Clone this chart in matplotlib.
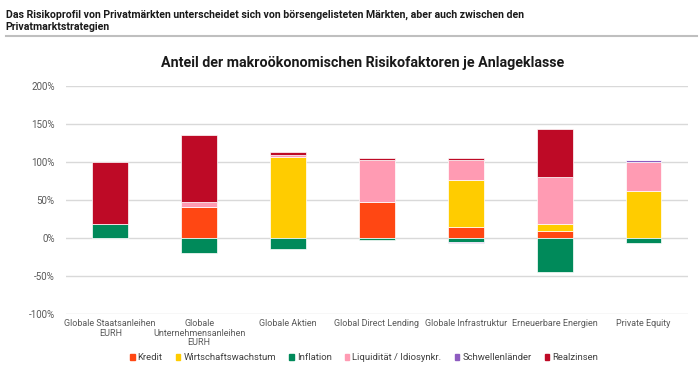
import numpy as np
import matplotlib.pyplot as plt
from matplotlib.lines import Line2D

categories = ["Globale Staatsanleihen\nEURH", "Globale\nUnternehmensanleihen\nEURH", "Globale Aktien",
              "Global Direct Lending", "Globale Infrastruktur", "Erneuerbare Energien", "Private Equity"]
series_names = ["Kredit", "Wirtschaftswachstum", "Inflation", "Liquidität / Idiosynkr.",
                "Schwellenländer", "Realzinsen"]
colors = ["#FF4713", "#FFCC00", "#008A5A", "#FF9BB3", "#8E5CC0", "#BE0A26"]

kredit = [0, 41, 0, 48, 15, 9, 0]
wachstum = [0, 0, 107, 0, 61, 10, 62]
inflation = [18, -19, -14, -3, -5, -45, -7]
liquiditaet = [0, 6, 2, 55, 27, 61, 38]
schwellen = [0, 0, 0, 0, -1, 0, 3]
realzinsen = [82, 89, 4, 2, 3, 63, 0]

values = [kredit, wachstum, inflation, liquiditaet, schwellen, realzinsen]

plt.rcParams['font.family'] = ['Roboto', 'DejaVu Sans']

fig = plt.figure(figsize=(7, 3.74), dpi=100)
ax = fig.add_axes([0.094, 0.160, 0.889, 0.610])

x = np.arange(len(categories))
pos_base = np.zeros(len(categories))
neg_base = np.zeros(len(categories))
for name, vals, col in zip(series_names, values, colors):
    v = np.array(vals, dtype=float)
    base = np.where(v >= 0, pos_base, neg_base)
    ax.bar(x, v, 0.4, bottom=base, color=col, edgecolor="white", linewidth=0.5, zorder=3)
    pos_base += np.where(v >= 0, v, 0)
    neg_base += np.where(v < 0, v, 0)

ax.set_ylim(-100, 200)
ax.set_xlim(-0.5, len(categories) - 0.5)
ax.set_yticks(np.arange(-100, 201, 50))
ax.set_yticklabels([f"{t}%" for t in range(-100, 201, 50)])
ax.yaxis.grid(True, color="#D9D9D9", linewidth=1, zorder=0)
for s in ax.spines.values():
    s.set_visible(False)
ax.tick_params(axis="both", length=0, labelsize=7, colors="#595959")
ax.tick_params(axis="y", pad=8)
ax.set_xticks(x)
ax.set_xticklabels(categories, fontsize=6.5, linespacing=1.1, va="top")

ax.set_title("Anteil der makroökonomischen Risikofaktoren je Anlageklasse",
             fontsize=10.3, fontweight="bold", pad=14, color="#1a1a1a", x=0.477)

fig.text(0.008, 0.975, "Das Risikoprofil von Privatmärkten unterscheidet sich von börsengelisteten Märkten, aber auch zwischen den\nPrivatmarktstrategien",
         fontsize=7.6, fontweight="bold", va="top", ha="left", linespacing=1.35, color="#1a1a1a")
fig.add_artist(Line2D([0.008, 0.995], [0.905, 0.905], color="#BFBFBF", linewidth=1.5))

handles = [plt.Rectangle((0, 0), 1, 1, color=c) for c in colors]
fig.legend(handles, series_names, loc="center", bbox_to_anchor=(0.52, 0.043), ncol=6,
           frameon=False, fontsize=6.8, handlelength=0.5, handleheight=0.5,
           handletextpad=0.3, columnspacing=1.4, labelcolor="#404040")

fig.savefig("out.png", dpi=100)
